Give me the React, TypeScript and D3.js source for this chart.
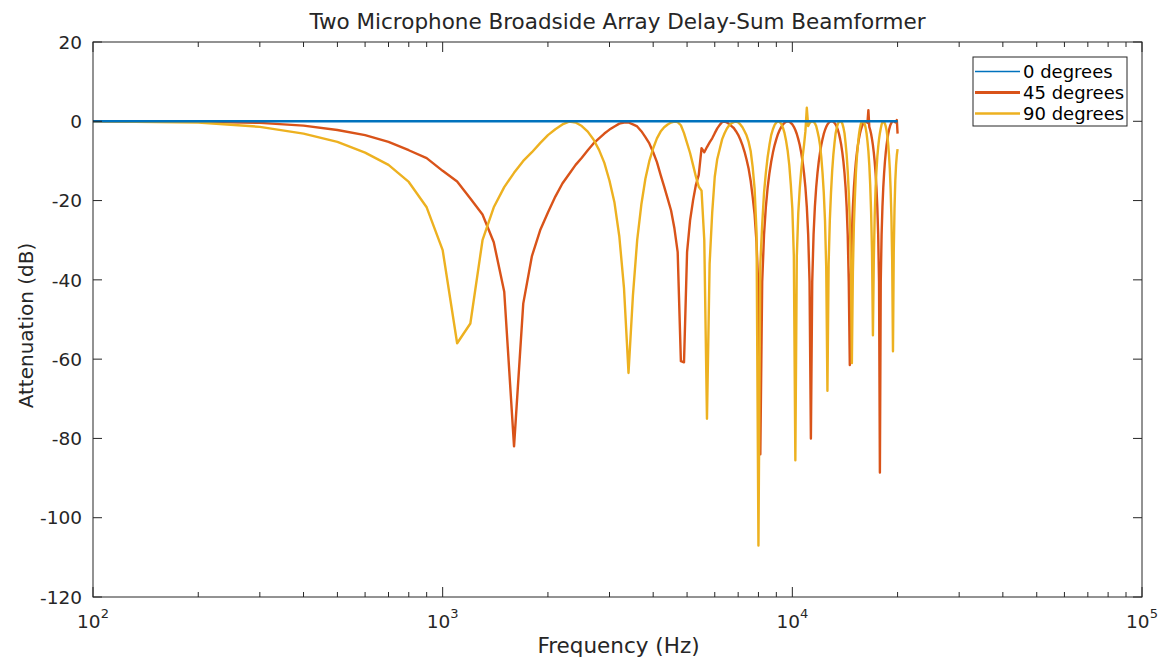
import React from 'react';
import * as d3 from 'd3';

// Beamformer response of a two-microphone broadside array, sampled every 100 Hz
const TITLE = 'Two Microphone Broadside Array Delay-Sum Beamformer';
const X_LABEL = 'Frequency (Hz)';
const Y_LABEL = 'Attenuation (dB)';
const SERIES_NAMES = ['0 degrees', '45 degrees', '90 degrees'];
const SERIES_COLORS = ['#0072BD', '#D95319', '#EDB120'];

const X_DECADES = [2, 3, 4, 5];
const Y_TICKS = [20, 0, -20, -40, -60, -80, -100, -120];

// sampling grid (Hz)
const FREQ_START = 100;
const FREQ_STEP = 100;
const FREQ_END = 20000;

// 0 degrees: flat response
const FREQ_0 = [100, 20000];
const DB_0 = [0, 0];

// 45 degrees, 100 Hz .. 20 kHz
const DB_45 = [
  0, -0.1, -0.4, -1.1, -2.2, -3.5, -5.2, -7.3, -9.3, -12.5,
  -15.2, -19.5, -23.5, -30.5, -43, -82, -46, -34, -27.5, -23,
  -19, -15.7, -13.3, -11, -9.2, -7.3, -5.6, -4.3, -3.1, -2.1,
  -1.3, -0.6, -0.3, -0.3, -0.8, -1.3, -2.5, -4, -5.6, -7.8,
  -10.3, -13.5, -16.5, -19.5, -22.5, -27, -33, -60.5, -60.8, -33,
  -25, -20, -16, -13.5, -6.8, -7.8, -6.5, -5.3, -4.3, -3,
  -1.8, -0.9, -0.2, -0.1, -0.3, -0.7, -1.2, -1.7, -2.5, -3.4,
  -4.6, -6, -7.7, -9.7, -12, -15, -19, -23.5, -30.6, -42.5,
  -84, -40.5, -28.6, -21.6, -16.7, -13.1, -10.2, -7.9, -6, -4.5,
  -3.2, -2.2, -1.4, -0.8, -0.4, -0.1, 0, -0.1, -0.4, -0.8,
  -1.4, -2.2, -3.2, -4.5, -6, -7.9, -10.2, -13.1, -16.7, -21.6,
  -28.6, -40.5, -80, -40.5, -28.6, -21.6, -16.7, -13.1, -10.2, -7.9,
  -6, -4.5, -3.2, -2.2, -1.4, -0.8, -0.4, -0.1, 0, 0,
  -0.1, -0.4, -0.8, -1.4, -2.2, -3.2, -4.5, -6, -7.9, -10.2,
  -13.1, -16.7, -21.6, -28.6, -40.5, -61.5, -40.5, -28.6, -21.6, -16.7,
  -13.1, -10.2, -7.9, -6, -4.5, -3.2, -2.2, -1.4, -0.8, -0.4,
  -0.1, 0, -0.1, -0.4, 2.8, -1.4, -2.2, -3.2, -4.5, -6,
  -7.9, -10.2, -13.1, -16.7, -21.6, -28.6, -40.5, -88.6, -40.5, -28.6,
  -21.6, -16.7, -13.1, -10.2, -7.9, -6, -4.5, -3.2, -2.2, -1.4,
  -0.8, -0.4, -0.1, 0, 0, -0.1, -0.3, -0.1, 0.3, -3.1,
];

// 90 degrees, 100 Hz .. 20 kHz
const DB_90 = [
  0, -0.3, -1.4, -3.1, -5.2, -7.9, -11, -15.3, -21.7, -32.5,
  -56, -51, -30, -21.7, -16.6, -13, -10, -7.8, -5.5, -3.5,
  -2.0, -0.8, -0.1, -0.3, -1.2, -2.6, -4.6, -7.2, -10.5, -15,
  -20.5, -29, -42, -63.5, -44, -30, -21, -14.5, -10, -6.8,
  -4.3, -2.6, -1.5, -0.8, -0.3, -0.1, -0.2, -1.0, -3.0, -5.5,
  -8.0, -11, -14, -16.5, -17.5, -30, -75, -36, -23, -14,
  -9.5, -7, -4.5, -3, -1.8, -1, -0.5, -0.2, -0.1, -0.3,
  -0.8, -1.5, -2.5, -3.6, -5.2, -7.5, -11.5, -17, -28, -107,
  -36, -26, -18, -13, -9, -6, -3.5, -2, -0.9, -0.3,
  0, -0.2, -0.7, -1.6, -3, -5, -7.5, -11, -16, -22,
  -34, -85.5, -34, -23, -17, -12.5, -9, -6, -2.5, 3.4,
  -1.2, -0.5, -0.1, 0, -0.1, -0.5, -1.2, -2.5, -4, -6,
  -9, -13, -18, -25, -37, -68, -36, -25, -18, -12.5,
  -8.5, -5.5, -3, -1.6, -0.6, -0.1, 0, -0.1, -0.6, -1.6,
  -3, -5.5, -8.5, -12.5, -18, -25, -36, -61, -38, -26,
  -19, -13, -9, -6, -3.5, -1.8, -0.7, -0.1, 0, -0.1,
  -0.6, -1.6, -3, -5, -7.5, -11, -16, -23, -33, -54,
  -35, -24, -17, -12.5, -9, -6.5, -4.5, -3, -1.8, -0.8,
  -0.2, 0, -0.2, -0.6, -1.3, -2.3, -3.8, -5.8, -8.5, -12,
  -17, -24, -35, -58, -33, -22, -15, -11, -8.5, -7,
];

const W = 1164;
const H = 663;
const M = { left: 93, right: 1142, top: 42, bottom: 597 };
const FONT = '"DejaVu Sans", sans-serif';
const INK = '#262626';

export default function App() {
  const x = d3.scaleLog().domain([1e2, 1e5]).range([M.left, M.right]);
  const y = d3.scaleLinear().domain([-120, 20]).range([M.bottom, M.top]);

  const grid = d3.range(FREQ_START, FREQ_END + 1, FREQ_STEP);
  const toPts = (fs: number[], vs: number[]) => vs.map((v, i) => [fs[i], v] as [number, number]);
  const series = [
    toPts(FREQ_0, DB_0),
    toPts(grid, DB_45),
    toPts(grid, DB_90),
  ];
  const line = d3
    .line<[number, number]>()
    .x((d) => x(d[0]))
    .y((d) => y(d[1]));

  const majorX = X_DECADES.map((e) => Math.pow(10, e));
  const minorX: number[] = [];
  X_DECADES.slice(0, -1).forEach((e) => {
    for (let k = 2; k <= 9; k++) minorX.push(k * Math.pow(10, e));
  });

  const plotW = M.right - M.left;
  const plotH = M.bottom - M.top;
  const drawOrder = [1, 2, 0];
  const widths = [2.6, 2.4, 2.4];
  const legendWidths = [1.5, 2.8, 2.6];

  return (
    <svg
      width={W}
      height={H}
      style={{ position: 'absolute', left: 0, top: 0, background: '#fff' }}
      fontFamily={FONT}
    >
      <defs>
        <clipPath id="plot-clip">
          <rect x={M.left} y={M.top} width={plotW} height={plotH} />
        </clipPath>
      </defs>
      <rect x={0} y={0} width={W} height={H} fill="#fff" />

      {/* series */}
      <g clipPath="url(#plot-clip)">
        {drawOrder.map((i) => (
          <path
            key={i}
            d={line(series[i]) || ''}
            fill="none"
            stroke={SERIES_COLORS[i]}
            strokeWidth={widths[i]}
            strokeLinejoin="round"
          />
        ))}
      </g>

      {/* axes box */}
      <rect x={M.left} y={M.top} width={plotW} height={plotH} fill="none" stroke={INK} strokeWidth={1} />

      {/* y ticks */}
      {Y_TICKS.map((t) => (
        <g key={'y' + t}>
          <line x1={M.left} x2={M.left + 9} y1={y(t)} y2={y(t)} stroke={INK} />
          <line x1={M.right - 9} x2={M.right} y1={y(t)} y2={y(t)} stroke={INK} />
          <text x={M.left - 11} y={y(t)} dy="0.36em" textAnchor="end" fontSize={18.5} fill={INK}>
            {t}
          </text>
        </g>
      ))}

      {/* x ticks */}
      {majorX.map((t) => (
        <g key={'xm' + t}>
          <line x1={x(t)} x2={x(t)} y1={M.bottom} y2={M.bottom - 10} stroke={INK} />
          <line x1={x(t)} x2={x(t)} y1={M.top} y2={M.top + 10} stroke={INK} />
        </g>
      ))}
      {minorX.map((t) => (
        <g key={'xn' + t}>
          <line x1={x(t)} x2={x(t)} y1={M.bottom} y2={M.bottom - 5} stroke={INK} />
          <line x1={x(t)} x2={x(t)} y1={M.top} y2={M.top + 5} stroke={INK} />
        </g>
      ))}
      {X_DECADES.map((e) => (
        <text key={'xl' + e} x={x(Math.pow(10, e))} y={628} textAnchor="middle" fontSize={18.5} fill={INK}>
          <tspan>10</tspan>
          <tspan fontSize={13} dy={-10}>
            {e}
          </tspan>
        </text>
      ))}

      {/* labels */}
      <text x={(M.left + M.right) / 2} y={29} textAnchor="middle" fontSize={21.5} fill={INK}>
        {TITLE}
      </text>
      <text x={(M.left + M.right) / 2 + 1} y={653} textAnchor="middle" fontSize={21.5} fill={INK}>
        {X_LABEL}
      </text>
      <text
        transform={`translate(33, ${(M.top + M.bottom) / 2 + 6}) rotate(-90)`}
        textAnchor="middle"
        fontSize={20}
        fill={INK}
      >
        {Y_LABEL}
      </text>

      {/* legend */}
      <g>
        <rect x={973} y={57} width={154} height={69} fill="#fff" stroke={INK} strokeWidth={1} />
        {SERIES_NAMES.map((name, i) => {
          const ry = 71.5 + i * 21;
          return (
            <g key={name}>
              <line x1={975} x2={1020} y1={ry} y2={ry} stroke={SERIES_COLORS[i]} strokeWidth={legendWidths[i]} />
              <text x={1023} y={ry} dy="0.36em" fontSize={18} fill="#000">
                {name}
              </text>
            </g>
          );
        })}
      </g>
    </svg>
  );
}
